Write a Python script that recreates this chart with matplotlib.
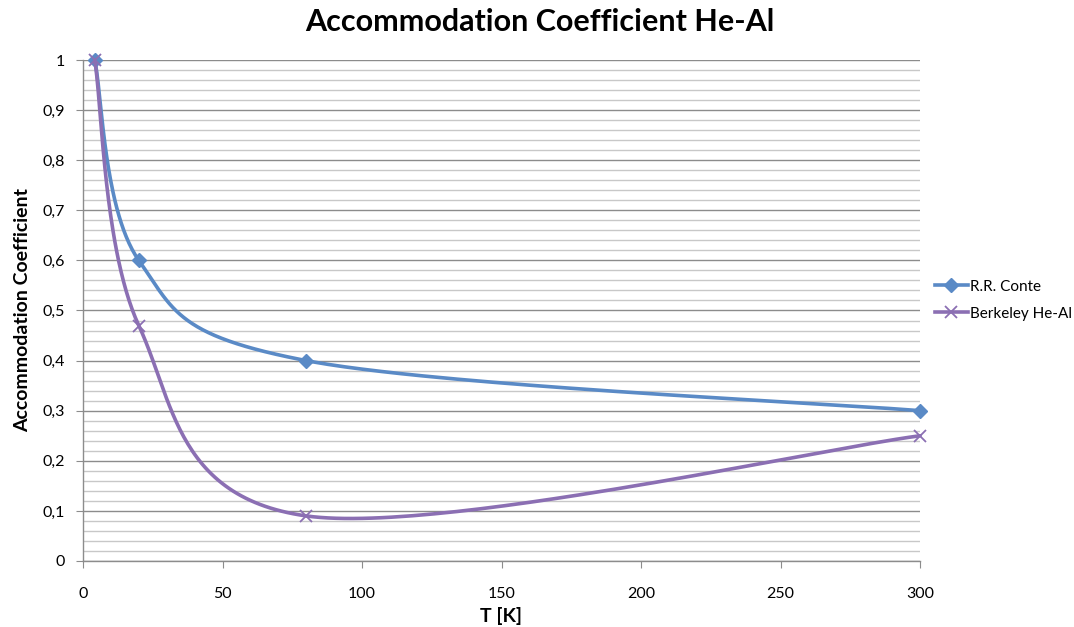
import numpy as np
import matplotlib
matplotlib.use("Agg")
import matplotlib.pyplot as plt
from matplotlib.ticker import MultipleLocator, FuncFormatter
from matplotlib.lines import Line2D

plt.rcParams['font.family'] = ['Lato', 'DejaVu Sans']

T_conte = [4.2, 20, 80, 300]
A_conte = [1.0, 0.6, 0.4, 0.3]
T_berk = [4.2, 20, 80, 300]
A_berk = [1.0, 0.47, 0.09, 0.25]
series_names = ["R.R. Conte", "Berkeley He-Al"]


def smooth(x, y, n=60):
    x = np.asarray(x, float); y = np.asarray(y, float)
    P = np.column_stack([x / 300.0, y / 1.0])
    out = []
    for i in range(len(P) - 1):
        p0 = P[i - 1] if i > 0 else P[i]
        p1 = P[i]; p2 = P[i + 1]
        p3 = P[i + 2] if i + 2 < len(P) else P[i + 1]
        c1 = p1 + (p2 - p0) / 6.0
        c2 = p2 - (p3 - p1) / 6.0
        t = np.linspace(0, 1, n)[:, None]
        seg = ((1 - t) ** 3) * p1 + 3 * ((1 - t) ** 2) * t * c1 + 3 * (1 - t) * t ** 2 * c2 + t ** 3 * p2
        out.append(seg if i == 0 else seg[1:])
    S = np.vstack(out)
    return S[:, 0] * 300.0, S[:, 1]


fig = plt.figure(figsize=(10.74, 6.27), dpi=100)
ax = fig.add_axes([83 / 1074, 66 / 627, (920 - 83) / 1074, (561 - 60) / 627])

ax.set_xlim(0, 300)
ax.set_ylim(0, 1)
ax.xaxis.set_major_locator(MultipleLocator(50))
ax.yaxis.set_major_locator(MultipleLocator(0.1))
ax.yaxis.set_minor_locator(MultipleLocator(0.02))
ax.yaxis.set_major_formatter(FuncFormatter(lambda v, p: ('%g' % round(v, 2)).replace('.', ',')))
ax.grid(axis='y', which='major', color='#8c8c8c', lw=1.0)
ax.grid(axis='y', which='minor', color='#c8c8c8', lw=1.0)
ax.set_axisbelow(True)
for s in ['top', 'right']:
    ax.spines[s].set_visible(False)
for s in ['left', 'bottom']:
    ax.spines[s].set_color('#8c8c8c')
    ax.spines[s].set_linewidth(1.0)
ax.tick_params(axis='both', which='major', color='#8c8c8c', length=5, labelsize=11.5, labelcolor='black')
ax.tick_params(axis='y', which='minor', length=0)
ax.tick_params(axis='x', pad=14)
ax.tick_params(axis='y', pad=8)

c1 = '#5A8AC6'
c2 = '#8B6FB3'
lw = 2.6
xs, ys = smooth(T_conte, A_conte)
ax.plot(xs, ys, color=c1, lw=lw, solid_capstyle='round', clip_on=False)
ax.plot(T_conte, A_conte, ls='none', marker='D', ms=7, color=c1, clip_on=False)
xs, ys = smooth(T_berk, A_berk)
ax.plot(xs, ys, color=c2, lw=lw, solid_capstyle='round', clip_on=False)
ax.plot(T_berk, A_berk, ls='none', marker='x', ms=8, mew=1.3, color=c2, clip_on=False)

h1 = Line2D([], [], color=c1, lw=lw, marker='D', ms=7)
h2 = Line2D([], [], color=c2, lw=lw, marker='x', ms=8, mew=1.3)
fig.legend([h1, h2], series_names, loc='upper left', bbox_to_anchor=(930 / 1074, 1 - 275 / 627),
           frameon=False, fontsize=11, handlelength=2.2, handletextpad=0.15, labelspacing=0.85,
           borderaxespad=0, borderpad=0.3)

fig.suptitle('Accommodation Coefficient He-Al', x=540 / 1074, y=1 - 8 / 627, va='top',
             fontsize=22, fontweight='bold')
ax.set_xlabel('T [K]', fontsize=14, fontweight='bold', labelpad=4)
ax.set_ylabel('Accommodation Coefficient', fontsize=14, fontweight='bold', labelpad=8)

fig.savefig('out.png', dpi=100)
